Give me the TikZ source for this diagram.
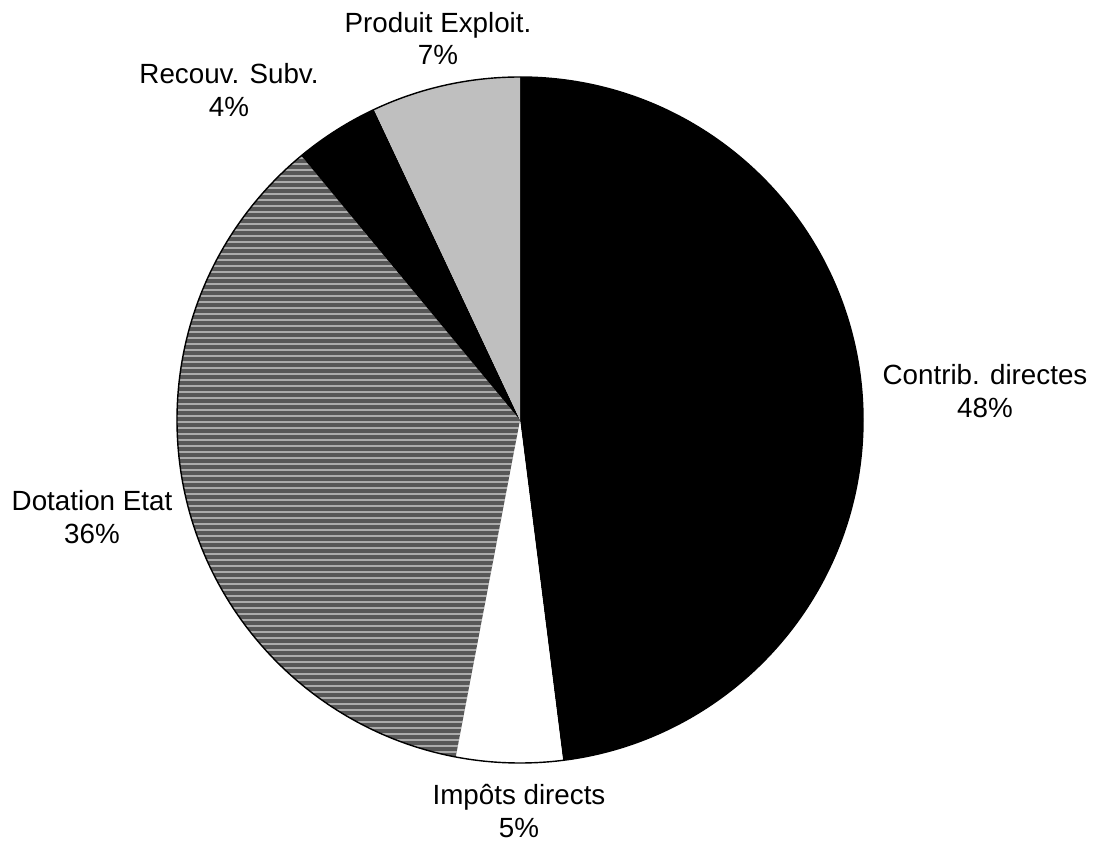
\documentclass[tikz,border=0pt]{standalone}
\usepackage{fontspec}
\setmainfont{Liberation Sans}
\usepackage{xcolor}

\begin{document}
\begin{tikzpicture}[lbl/.style={align=center, font=\fontsize{7.9}{9.2}\selectfont}]
			\useasboundingbox (0,0) rectangle (10.97,8.40);
			\coordinate (c) at (5.20,4.20);
			\fill[black] (c) -- ++(90:3.43) arc (90:-82.8:3.43) -- cycle;
			\fill[white] (c) -- ++(-82.8:3.43) arc (-82.8:-100.8:3.43) -- cycle;
			\begin{scope}
				\clip (c) -- ++(-100.8:3.43) arc (-100.8:-230.4:3.43) -- cycle;
				\fill[black!66] (1.5,0.5) rectangle (5.5,8);
				\foreach \y in {0.70,0.76,...,7.9} \draw[white, line width=0.4pt, opacity=0.5] (1.5,\y) -- (5.5,\y);
			\end{scope}
			\fill[black] (c) -- ++(129.6:3.43) arc (129.6:115.2:3.43) -- cycle;
			\fill[black!25] (c) -- ++(115.2:3.43) arc (115.2:90:3.43) -- cycle;
			\draw[line width=0.4pt] (c) circle (3.43);
			\node[lbl] (produit) at (4.38,8.015) {Produit Exploit.\\7\%};
			\node[lbl] (recouv) at (2.29,7.50) {Recouv. Subv.\\4\%};
			\node[lbl] (contrib) at (9.85,4.49) {Contrib. directes\\48\%};
			\node[lbl] (dotation) at (0.92,3.23) {Dotation Etat\\36\%};
			\node[lbl] (impots) at (5.19,0.29) {Impôts directs\\5\%};
		\end{tikzpicture}
\end{document}
